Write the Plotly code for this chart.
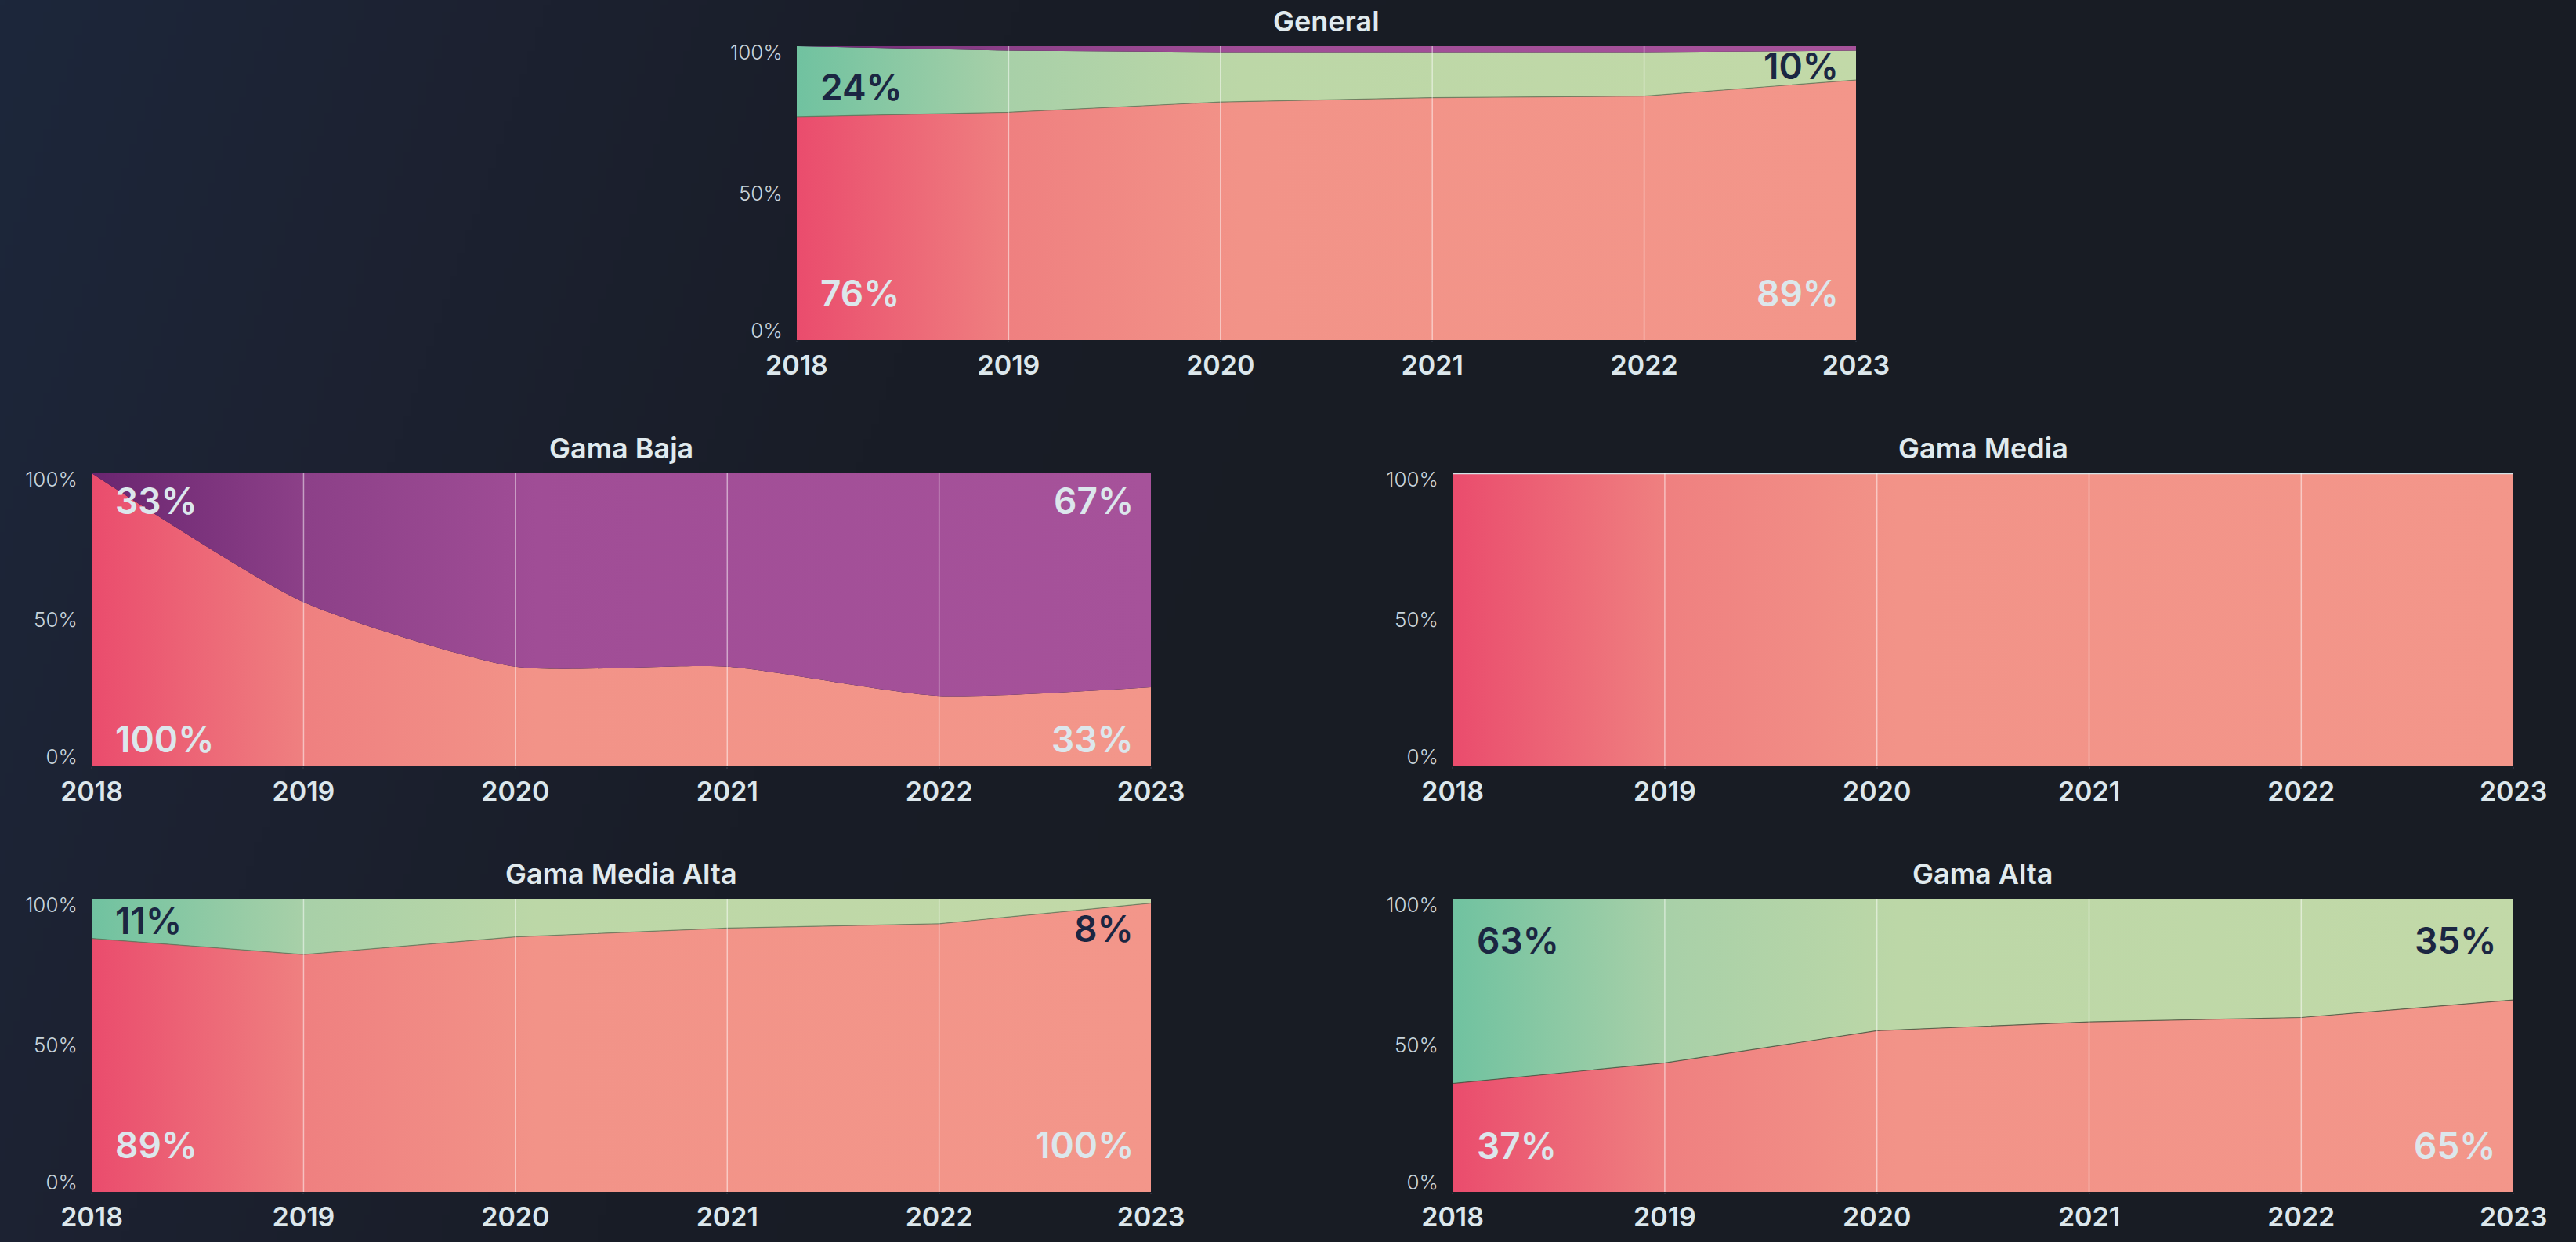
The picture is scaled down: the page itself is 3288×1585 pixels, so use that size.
import base64
import struct
import zlib

import numpy as np
import plotly.graph_objects as go

# ---------------- data ----------------
years = ["2018", "2019", "2020", "2021", "2022", "2023"]
series_names = ["Segmento 1", "Segmento 2", "Segmento 3"]
panel_titles = ["General", "Gama Baja", "Gama Media", "Gama Media Alta", "Gama Alta"]

general_s1 = [76, 77.5, 81, 82.5, 83, 88.5]
general_s2 = [24, 21, 17, 15.5, 15, 10]
general_s3 = [0, 1.5, 2, 2, 2, 1.5]

baja_s1 = [100, 56, 34, 34, 24, 27]
baja_s2 = [0, 0, 0, 0, 0, 0]
baja_s3 = [0, 44, 66, 66, 76, 73]

media_s1 = [100, 100, 100, 100, 100, 100]
media_s2 = [0, 0, 0, 0, 0, 0]
media_s3 = [0, 0, 0, 0, 0, 0]

media_alta_s1 = [86.5, 81, 87, 90, 91.5, 98.5]
media_alta_s2 = [13.5, 19, 13, 10, 8.5, 1.5]
media_alta_s3 = [0, 0, 0, 0, 0, 0]

alta_s1 = [37, 44, 55, 58, 59.5, 65.5]
alta_s2 = [63, 56, 45, 42, 40.5, 34.5]
alta_s3 = [0, 0, 0, 0, 0, 0]

# corner labels: top-left, top-right, bottom-left, bottom-right
general_labels = ["24%", "10%", "76%", "89%"]
baja_labels = ["33%", "67%", "100%", "33%"]
media_labels = []
media_alta_labels = ["11%", "8%", "89%", "100%"]
alta_labels = ["63%", "35%", "37%", "65%"]

y_tick_text = ["0%", "50%", "100%"]

# ---------------- styling ----------------
FONT = "Inter"
LIGHT = "#dce7ec"
DARK = "#1b2642"

SCALES = [
    [[0, "#EA4C6D"], [0.2, "#EF8080"], [0.42, "#F29388"], [1, "#F3968A"]],
    [[0, "#70C2A0"], [0.2, "#A8D0A8"], [0.42, "#BCD7A7"], [1, "#C2D9A8"]],
    [[0, "#6A2570"], [0.2, "#8C4088"], [0.42, "#A04D96"], [1, "#A6529A"]],
]

panels = [
    dict(series=[general_s1, general_s2, general_s3], labels=general_labels,
         x=[0.3093, 0.7205], y=[0.7262, 0.9628], shape="linear",
         lab_y=[0.861, 0.933, 0.16, 0.16], top_color=DARK,
         line=dict(width=1.2, color="rgba(95,115,85,0.7)")),
    dict(series=[baja_s1, baja_s2, baja_s3], labels=baja_labels,
         x=[0.0356, 0.4468], y=[0.3830, 0.6189], shape="spline",
         lab_y=[0.906, 0.906, 0.094, 0.094], top_color=LIGHT,
         line=dict(width=0, color="rgba(0,0,0,0)")),
    dict(series=[media_s1, media_s2, media_s3], labels=media_labels,
         x=[0.5639, 0.9757], y=[0.3830, 0.6189], shape="linear",
         lab_y=[], top_color=DARK,
         line=dict(width=2.5, color="#d3e2e6")),
    dict(series=[media_alta_s1, media_alta_s2, media_alta_s3], labels=media_alta_labels,
         x=[0.0356, 0.4468], y=[0.0404, 0.2763], shape="linear",
         lab_y=[0.925, 0.898, 0.16, 0.16], top_color=DARK,
         line=dict(width=1.2, color="rgba(95,115,85,0.7)")),
    dict(series=[alta_s1, alta_s2, alta_s3], labels=alta_labels,
         x=[0.5639, 0.9757], y=[0.0404, 0.2763], shape="linear",
         lab_y=[0.858, 0.858, 0.158, 0.158], top_color=DARK,
         line=dict(width=1.2, color="rgba(70,80,60,0.75)")),
]


# ---------------- background gradient image ----------------
def background_png(w=330, h=160):
    stops_t = [0, 700, 1300, 2000, 6000]
    stops_c = np.array([(28, 39, 59), (28, 33, 48), (25, 29, 39), (24, 28, 36), (24, 28, 36)], float)
    xs = np.arange(w) * 3288 / w
    ys = np.arange(h) * 1585 / h
    t = xs[None, :] + 0.344 * ys[:, None]
    img = np.stack([np.interp(t, stops_t, stops_c[:, k]) for k in range(3)], axis=-1).astype(np.uint8)
    raw = b"".join(b"\x00" + img[j].tobytes() for j in range(h))

    def chunk(tag, data):
        return struct.pack(">I", len(data)) + tag + data + struct.pack(">I", zlib.crc32(tag + data) & 0xFFFFFFFF)

    png = (b"\x89PNG\r\n\x1a\n" + chunk(b"IHDR", struct.pack(">IIBBBBB", w, h, 8, 2, 0, 0, 0))
           + chunk(b"IDAT", zlib.compress(raw, 9)) + chunk(b"IEND", b""))
    return "data:image/png;base64," + base64.b64encode(png).decode()


fig = go.Figure()
layout = dict(
    width=3288, height=1585, margin=dict(l=0, r=0, t=0, b=0, autoexpand=False),
    paper_bgcolor="#181c25", plot_bgcolor="rgba(0,0,0,0)",
    showlegend=False, font=dict(family=FONT, color=LIGHT),
    hovermode=False,
    images=[dict(source=background_png(), xref="paper", yref="paper", x=0, y=1,
                 sizex=1, sizey=1, sizing="stretch", layer="below", xanchor="left", yanchor="top")],
)
annotations = []
shapes = []

for i, p in enumerate(panels):
    sfx = "" if i == 0 else str(i + 1)
    xa, ya = "x" + sfx, "y" + sfx
    for k, vals in enumerate(p["series"]):
        line = p["line"] if k == 0 else dict(width=0, color="rgba(0,0,0,0)")
        fig.add_trace(go.Scatter(
            x=years, y=vals, name=series_names[k], xaxis=xa, yaxis=ya,
            mode="lines", stackgroup="s" + str(i), groupnorm="fraction",
            line=dict(width=line["width"], color=line["color"], shape=p["shape"], smoothing=0.6),
            fillgradient=dict(type="horizontal", colorscale=SCALES[k]),
        ))
    layout["xaxis" + sfx] = dict(
        domain=p["x"], anchor=ya, type="category", range=[0, len(years) - 1],
        showgrid=False, zeroline=False, showline=False, automargin=False,
        ticks="outside", ticklen=2, tickwidth=1.5, tickcolor="#2a303c",
        tickfont=dict(family=FONT, size=34, color=LIGHT, weight=600),
        fixedrange=True,
    )
    layout["yaxis" + sfx] = dict(
        domain=p["y"], anchor=xa, range=[0, 1], automargin=False,
        tickvals=[0.032, 0.5, 0.978], ticktext=y_tick_text,
        showgrid=False, zeroline=False, showline=False,
        ticks="outside", ticklen=12, tickcolor="rgba(0,0,0,0)",
        tickfont=dict(family=FONT, size=26, color="#c9d4db", weight=300),
        fixedrange=True,
    )
    # vertical grid lines drawn above the areas (at the inner year categories)
    for idx in range(1, len(years) - 1):
        shapes.append(dict(type="line", xref=xa, yref=ya + " domain", x0=idx, x1=idx, y0=0, y1=1,
                           line=dict(color="rgba(255,255,255,0.5)", width=1.5), layer="above"))
    # title
    annotations.append(dict(text=panel_titles[i], xref="paper", yref="paper",
                            x=(p["x"][0] + p["x"][1]) / 2, y=p["y"][1], xanchor="center",
                            yanchor="bottom", yshift=8, showarrow=False,
                            font=dict(family=FONT, size=36, color="#e0eaee", weight=600)))
    # corner labels
    for j, txt in enumerate(p["labels"]):
        left = j % 2 == 0
        top = j < 2
        annotations.append(dict(
            text=txt, xref=xa + " domain", yref=ya + " domain",
            x=0.021 if left else 0.985, y=p["lab_y"][j],
            xanchor="left" if left else "right", yanchor="middle", showarrow=False,
            font=dict(family=FONT, size=46, weight=600,
                      color=p["top_color"] if top else LIGHT),
        ))

layout["annotations"] = annotations
layout["shapes"] = shapes
fig.update_layout(**layout)

fig.write_html("out.html", config={"displayModeBar": False},
               post_script="document.body.style.margin='0';document.body.style.overflow='hidden';")
